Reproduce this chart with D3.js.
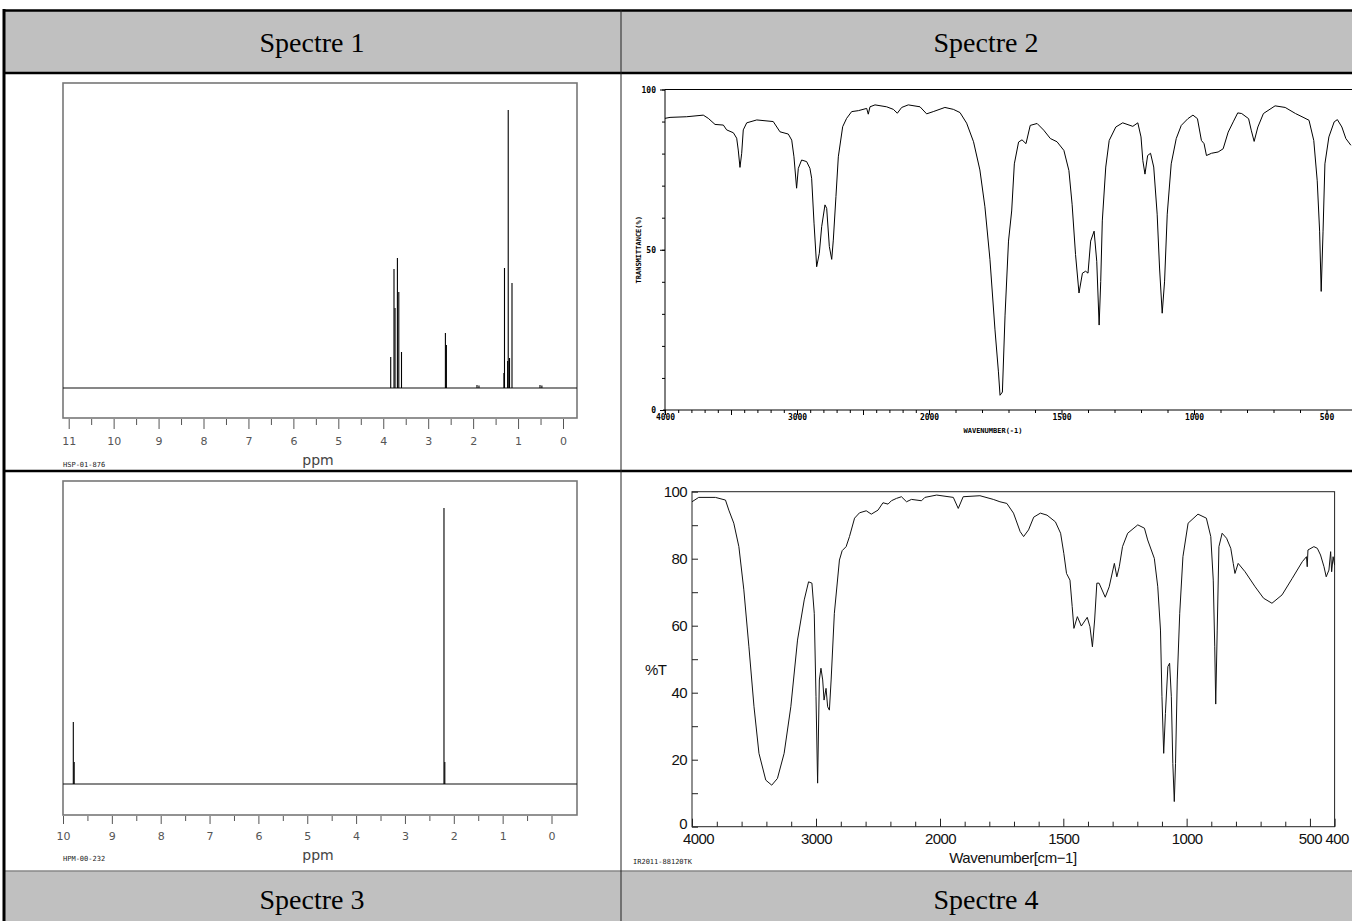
<!DOCTYPE html>
<html><head><meta charset="utf-8">
<script src="https://cdn.jsdelivr.net/npm/d3@7/dist/d3.min.js"></script>
<style>body{margin:0;background:#fff}svg{display:block}</style>
</head><body>
<svg id="c" width="1352" height="921"></svg>
<script>
// ---------------- DATA ----------------
const headerTop = ["Spectre 1", "Spectre 2"];
const headerBottom = ["Spectre 3", "Spectre 4"];

// NMR spectrum 1 : [ppm, relative intensity]
const nmr1Peaks = [
  [3.834, 10.3], [3.761, 39.7], [3.738, 26.7], [3.685, 43.3], [3.654, 32.0], [3.594, 12.0],
  [2.617, 18.3], [2.595, 14.3],
  [1.914, 1.0], [1.870, 0.8],
  [1.315, 5.0], [1.302, 40.0], [1.232, 9.0], [1.219, 92.7], [1.190, 10.0], [1.135, 35.0],
  [0.512, 1.0], [0.470, 0.8]
];
const nmr1TickLabels = [11, 10, 9, 8, 7, 6, 5, 4, 3, 2, 1, 0];
const nmr1Code = "HSP-01-876";

// NMR spectrum 3
const nmr3Peaks = [
  [9.789, 20.7], [9.771, 7.3],
  [2.201, 92.0], [2.184, 7.3]
];
const nmr3TickLabels = [10, 9, 8, 7, 6, 5, 4, 3, 2, 1, 0];
const nmr3Code = "HPM-00-232";

// IR spectrum 2 : [wavenumber, %T]
const ir2Spectrum = [
  [4000,91.0],[3962,91.3],[3836,91.5],[3710,92.0],[3672,91.0],[3621,89.1],[3558,88.9],[3533,87.4],
  [3482,86.5],[3457,84.8],[3445,81.1],[3432,75.7],[3419,80.1],[3407,87.4],[3381,89.6],[3305,90.5],
  [3180,90.0],[3129,86.8],[3066,86.1],[3040,84.2],[3023,79.0],[3003,69.2],[2990,75.4],[2965,78.0],
  [2927,77.5],[2902,75.4],[2889,72.3],[2871,58.3],[2851,44.7],[2831,48.9],[2813,57.2],[2788,64.0],
  [2775,62.9],[2755,51.0],[2737,47.0],[2725,53.0],[2705,66.6],[2687,79.0],[2654,88.4],[2624,91.0],
  [2586,93.1],[2535,93.4],[2472,94.1],[2460,92.3],[2447,94.6],[2409,95.2],[2321,94.6],[2270,93.8],
  [2240,92.6],[2207,94.4],[2157,95.2],[2068,94.6],[2018,92.4],[1984,93.1],[1940,94.4],[1908,93.8],
  [1883,92.8],[1858,89.5],[1832,83.7],[1808,74.9],[1789,63.4],[1770,47.0],[1751,25.0],[1738,11.9],
  [1732,4.6],[1723,5.6],[1713,29.6],[1700,52.7],[1688,62.1],[1678,76.8],[1662,83.6],[1649,84.3],
  [1634,83.1],[1618,88.8],[1592,89.4],[1567,87.3],[1542,84.7],[1517,83.7],[1491,81.0],[1472,74.7],
  [1460,64.2],[1447,48.5],[1434,36.5],[1421,42.7],[1409,43.3],[1400,42.7],[1390,52.7],[1377,55.8],
  [1367,46.4],[1358,26.5],[1352,40.1],[1346,59.0],[1333,75.8],[1320,84.1],[1295,88.3],[1269,89.6],
  [1231,88.5],[1212,89.6],[1200,85.2],[1193,77.8],[1185,73.6],[1175,79.4],[1164,80.1],[1152,75.8],
  [1139,61.1],[1130,44.3],[1120,30.2],[1111,40.2],[1101,61.1],[1086,76.8],[1067,84.7],[1048,88.8],
  [1023,90.9],[1004,92.0],[987,90.9],[972,84.1],[962,83.1],[953,79.4],[934,80.1],[909,80.5],
  [890,81.5],[871,86.7],[852,89.9],[835,92.7],[820,92.5],[794,90.9],[784,87.3],[773,83.8],
  [759,88.3],[738,92.5],[694,94.9],[656,94.4],[617,92.5],[585,91.2],[566,90.4],[548,84.1],
  [535,71.5],[526,55.8],[520,37.0],[513,55.8],[506,76.8],[491,85.2],[471,89.9],[459,90.6],
  [442,88.3],[427,84.7],[408,82.6]
];
const ir2XTickLabels = [4000, 3000, 2000, 1500, 1000, 500];
const ir2YTickLabels = [0, 50, 100];

// IR spectrum 4
const ir4Spectrum = [
  [4000,97.0],[3946,98.3],[3811,98.3],[3730,97.5],[3703,94.5],[3663,90.6],[3622,83.6],[3582,70.7],
  [3541,53.7],[3500,35.8],[3460,21.9],[3405,13.9],[3357,12.4],[3311,14.4],[3257,21.9],[3203,35.8],
  [3149,55.7],[3095,67.7],[3060,73.1],[3033,72.7],[3014,63.7],[3000,38.8],[2987,13.0],[2973,43.8],
  [2960,47.3],[2946,43.8],[2935,37.8],[2919,41.3],[2906,35.8],[2892,34.8],[2878,43.8],[2852,63.7],
  [2811,79.6],[2789,82.4],[2757,83.6],[2730,86.6],[2689,92.1],[2649,93.7],[2595,94.3],[2554,93.3],
  [2500,94.5],[2460,96.7],[2419,96.3],[2392,97.3],[2351,98.0],[2311,98.5],[2270,97.0],[2230,97.7],
  [2149,97.3],[2122,98.3],[2027,99.0],[1946,98.3],[1926,95.0],[1906,98.5],[1838,98.8],[1784,97.7],
  [1757,97.0],[1729,96.5],[1702,93.6],[1675,88.1],[1661,86.6],[1641,88.6],[1620,92.4],[1593,93.6],
  [1566,93.0],[1532,91.0],[1511,87.6],[1498,81.6],[1487,75.6],[1473,73.6],[1464,65.7],[1457,59.2],
  [1443,62.7],[1427,59.9],[1403,62.5],[1392,59.7],[1382,53.7],[1373,61.7],[1364,72.7],[1355,72.7],
  [1330,68.5],[1314,71.6],[1293,78.6],[1283,74.6],[1273,77.6],[1260,83.6],[1239,87.6],[1198,90.1],
  [1171,89.1],[1158,85.6],[1131,80.1],[1117,71.6],[1106,58.7],[1100,38.8],[1093,21.9],[1086,33.8],
  [1076,47.8],[1069,48.8],[1062,38.8],[1056,18.9],[1050,7.5],[1045,18.9],[1038,43.8],[1028,63.7],
  [1015,80.6],[994,90.6],[954,93.3],[920,92.1],[902,86.6],[892,73.6],[886,53.7],[882,36.6],
  [876,58.7],[869,83.6],[856,87.6],[838,86.1],[821,83.1],[811,78.6],[804,75.6],[791,78.6],
  [763,76.1],[722,71.6],[688,68.2],[654,66.7],[613,69.2],[572,74.1],[531,79.1],[514,80.6],
  [511,77.6],[508,82.6],[484,83.6],[470,83.1],[457,81.1],[443,77.6],[434,74.6],[423,76.6],
  [416,82.1],[412,76.1],[406,80.6],[400,78.1]
];
const ir4XTickLabels = [4000, 3000, 2000, 1500, 1000, 500, 400];
const ir4YTickLabels = [0, 20, 40, 60, 80, 100];
const ir4Code = "IR2011-88120TK";

// ---------------- DRAWING ----------------
const svg = d3.select("#c");
const serif = "'Liberation Serif','Times New Roman',serif";
const narrow = "'Liberation Sans',Arial,sans-serif";
const sans = "'DejaVu Sans',sans-serif";
const mono = "'DejaVu Sans Mono',monospace";
const fmt = d3.format("d");

// table backgrounds
svg.append("rect").attr("x", 3).attr("y", 10).attr("width", 1349).attr("height", 63).attr("fill", "#c0c0c0");
svg.append("rect").attr("x", 3).attr("y", 871).attr("width", 1349).attr("height", 50).attr("fill", "#c0c0c0");

const colCenters = [312, 986];
svg.selectAll("text.ht").data(headerTop).join("text")
  .attr("x", (d, i) => colCenters[i]).attr("y", 52)
  .attr("text-anchor", "middle").attr("font-family", serif).attr("font-size", 28).text(d => d);
svg.selectAll("text.hb").data(headerBottom).join("text")
  .attr("x", (d, i) => colCenters[i]).attr("y", 909)
  .attr("text-anchor", "middle").attr("font-family", serif).attr("font-size", 28).text(d => d);

// ---------- NMR helper ----------
function drawNMR(cfg) {
  const g = svg.append("g");
  const x = d3.scaleLinear().domain(cfg.ppmDomain).range(cfg.ppmRange);
  const y = d3.scaleLinear().domain([0, 100]).range([cfg.baseY, cfg.baseY - 300]);
  g.append("rect").attr("x", cfg.box[0]).attr("y", cfg.box[1])
    .attr("width", cfg.box[2] - cfg.box[0]).attr("height", cfg.box[3] - cfg.box[1])
    .attr("fill", "#fff").attr("stroke", "#777").attr("stroke-width", 1.6);
  g.append("line").attr("x1", cfg.box[0]).attr("x2", cfg.box[2])
    .attr("y1", y(0)).attr("y2", y(0)).attr("stroke", "#111").attr("stroke-width", 1.1);
  g.selectAll("line.pk").data(cfg.peaks).join("line")
    .attr("x1", d => x(d[0])).attr("x2", d => x(d[0]))
    .attr("y1", y(0)).attr("y2", d => y(d[1]))
    .attr("stroke", "#000").attr("stroke-width", 1.1);
  const lo = d3.min(cfg.ticks), hi = d3.max(cfg.ticks);
  const minor = d3.range(lo + 0.5, hi, 1);
  const ax1 = g.append("g").attr("transform", `translate(0,${cfg.box[3] + 1})`)
    .call(d3.axisBottom(x).tickValues(minor).tickSize(cfg.minorLen).tickFormat(""));
  const ax2 = g.append("g").attr("transform", `translate(0,${cfg.box[3] + 1})`)
    .call(d3.axisBottom(x).tickValues(cfg.ticks).tickSize(cfg.majorLen).tickPadding(cfg.pad).tickFormat(fmt));
  [ax1, ax2].forEach(a => { a.select(".domain").remove(); a.selectAll("line").attr("stroke", "#555"); });
  ax2.selectAll("text").attr("font-family", sans).attr("font-size", 11).attr("fill", "#555");
  g.append("text").attr("x", 318).attr("y", cfg.ppmY).attr("text-anchor", "middle")
    .attr("font-family", sans).attr("font-size", 14).attr("fill", "#444").text("ppm");
  g.append("text").attr("x", 63).attr("y", cfg.codeY).attr("font-family", mono)
    .attr("font-size", 7).attr("fill", "#222").text(cfg.code);
}

drawNMR({ ppmDomain: [11, 0], ppmRange: [68.7, 563], baseY: 388, box: [63, 83, 577, 418],
  peaks: nmr1Peaks, ticks: nmr1TickLabels, minorLen: 6, majorLen: 10, pad: 8, ppmY: 465, codeY: 467, code: nmr1Code });
drawNMR({ ppmDomain: [10, 0], ppmRange: [63, 551.5], baseY: 784, box: [63, 481, 577, 815],
  peaks: nmr3Peaks, ticks: nmr3TickLabels, minorLen: 5, majorLen: 8, pad: 8, ppmY: 860, codeY: 861, code: nmr3Code });

// ---------- IR 2 ----------
(function () {
  const g = svg.append("g");
  const x = d3.scaleLinear().domain([4000, 2000, 400]).range([665, 929, 1353]);
  const y = d3.scaleLinear().domain([0, 100]).range([410, 89.5]);
  g.append("line").attr("x1", 665).attr("x2", 1352).attr("y1", y(100)).attr("y2", y(100)).attr("stroke", "#000");
  g.append("line").attr("x1", 665).attr("x2", 665).attr("y1", y(100)).attr("y2", 413).attr("stroke", "#000");
  g.append("line").attr("x1", 663).attr("x2", 1352).attr("y1", y(0)).attr("y2", y(0)).attr("stroke", "#000");
  const minorX = d3.range(4000, 399, -100).filter(v => v % 500 !== 0);
  const majorX = d3.range(4000, 399, -500);
  const a1 = g.append("g").attr("transform", `translate(0,${y(0)})`)
    .call(d3.axisBottom(x).tickValues(minorX).tickSize(3).tickFormat(""));
  const a2 = g.append("g").attr("transform", `translate(0,${y(0)})`)
    .call(d3.axisBottom(x).tickValues(majorX).tickSize(5).tickFormat(""));
  const a3 = g.append("g").attr("transform", `translate(0,${y(0)})`)
    .call(d3.axisBottom(x).tickValues(ir2XTickLabels).tickSize(0).tickPadding(4).tickFormat(fmt));
  const a4 = g.append("g").attr("transform", `translate(665,0)`)
    .call(d3.axisLeft(y).tickValues(d3.range(0, 101, 10)).tickSize(3).tickFormat(""));
  const a5 = g.append("g").attr("transform", `translate(665,0)`)
    .call(d3.axisLeft(y).tickValues(ir2YTickLabels).tickSize(5).tickPadding(4).tickFormat(fmt));
  [a1, a2, a3, a4, a5].forEach(a => { a.select(".domain").remove(); a.selectAll("line").attr("stroke", "#000"); });
  [a3, a5].forEach(a => a.selectAll("text").attr("font-family", mono).attr("font-size", 8).attr("font-weight", "bold").attr("fill", "#000"));
  g.append("path").datum(ir2Spectrum)
    .attr("d", d3.line().x(d => x(d[0])).y(d => y(d[1])))
    .attr("fill", "none").attr("stroke", "#000").attr("stroke-width", 1);
  g.append("text").attr("transform", `translate(641,${y(50)}) rotate(-90)`).attr("text-anchor", "middle")
    .attr("font-family", mono).attr("font-size", 7).attr("font-weight", "bold").text("TRANSMITTANCE(%)");
  g.append("text").attr("x", 993).attr("y", 433).attr("text-anchor", "middle")
    .attr("font-family", mono).attr("font-size", 7).attr("font-weight", "bold").text("WAVENUMBER(-1)");
})();

// ---------- IR 4 ----------
(function () {
  const g = svg.append("g");
  const x = d3.scaleLinear().domain([4000, 2000, 400]).range([692, 940, 1334.6]);
  const y = d3.scaleLinear().domain([0, 100]).range([826.7, 491.7]);
  g.append("rect").attr("x", x(4000)).attr("y", y(100)).attr("width", x(400) - x(4000)).attr("height", y(0) - y(100))
    .attr("fill", "none").attr("stroke", "#222").attr("stroke-width", 1);
  const minorX = d3.range(3800, 2000, -200).concat(d3.range(1900, 400, -100)).filter(v => v % 500 !== 0);
  const a1 = g.append("g").attr("transform", `translate(0,${y(0)})`)
    .call(d3.axisBottom(x).tickValues(minorX).tickSizeInner(-5).tickSizeOuter(0).tickFormat(""));
  const a2 = g.append("g").attr("transform", `translate(0,${y(0)})`)
    .call(d3.axisBottom(x).tickValues(ir4XTickLabels).tickSizeInner(-8).tickSizeOuter(0).tickPadding(7).tickFormat(fmt));
  const a3 = g.append("g").attr("transform", `translate(${x(4000)},0)`)
    .call(d3.axisLeft(y).tickValues(d3.range(10, 100, 20)).tickSizeInner(-6).tickSizeOuter(0).tickFormat(""));
  const a4 = g.append("g").attr("transform", `translate(${x(4000)},0)`)
    .call(d3.axisLeft(y).tickValues(ir4YTickLabels).tickSizeInner(-6).tickSizeOuter(0).tickPadding(5).tickFormat(fmt));
  [a1, a2, a3, a4].forEach(a => { a.select(".domain").remove(); a.selectAll("line").attr("stroke", "#222"); });
  [a2, a4].forEach(a => a.selectAll("text").attr("font-family", narrow).attr("font-size", 15)
    .attr("letter-spacing", -0.6).attr("fill", "#111"));
  a4.selectAll(".tick").filter(d => d === 0).select("text").attr("dy", "0.1em");
  a2.selectAll(".tick").filter(d => d === 4000).select("text").attr("x", 6);
  a2.selectAll(".tick").filter(d => d === 500).select("text").attr("x", 0);
  a2.selectAll(".tick").filter(d => d === 400).select("text").attr("x", 2);
  g.append("path").datum(ir4Spectrum)
    .attr("d", d3.line().x(d => x(d[0])).y(d => y(d[1])))
    .attr("fill", "none").attr("stroke", "#111").attr("stroke-width", 1);
  g.append("text").attr("x", 645).attr("y", 675).attr("font-family", narrow).attr("font-size", 15)
    .attr("letter-spacing", -0.6).attr("fill", "#111").text("%T");
  g.append("text").attr("x", 1013).attr("y", 863).attr("text-anchor", "middle")
    .attr("font-family", narrow).attr("font-size", 15).attr("letter-spacing", -0.4).attr("fill", "#111").text("Wavenumber[cm\u22121]");
  g.append("text").attr("x", 633).attr("y", 864).attr("font-family", mono).attr("font-size", 7).attr("fill", "#222").text(ir4Code);
})();

// table lines
const lines = [
  [3, 10.5, 1352, 10.5, "#000", 2.5],
  [3, 73, 1352, 73, "#000", 2.5],
  [3, 471, 1352, 471, "#000", 2.5],
  [3, 871, 1352, 871, "#888", 1.5],
  [4, 9, 4, 921, "#000", 3],
  [621, 10, 621, 921, "#222", 1]
];
svg.selectAll("line.tbl").data(lines).join("line")
  .attr("x1", d => d[0]).attr("y1", d => d[1]).attr("x2", d => d[2]).attr("y2", d => d[3])
  .attr("stroke", d => d[4]).attr("stroke-width", d => d[5]);
</script>
</body></html>
